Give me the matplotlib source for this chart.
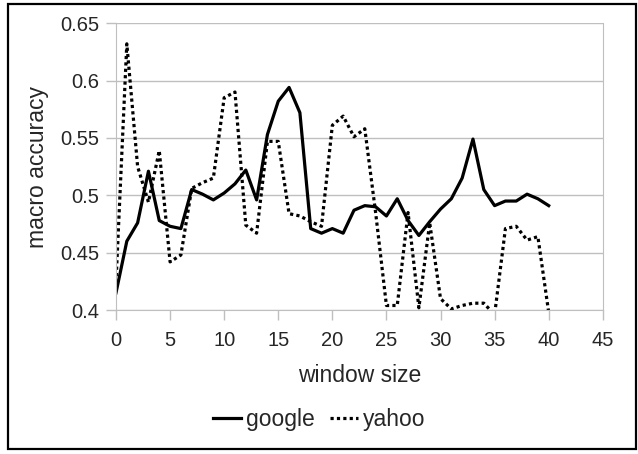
import matplotlib.pyplot as plt
from matplotlib.patches import Rectangle

plt.rcParams['font.family'] = ['Liberation Sans', 'DejaVu Sans']

window = list(range(0, 41))
google = [0.415, 0.460, 0.476, 0.521, 0.478, 0.473, 0.471, 0.505, 0.501, 0.496,
          0.502, 0.510, 0.522, 0.496, 0.553, 0.582, 0.594, 0.572, 0.471, 0.467,
          0.471, 0.467, 0.487, 0.491, 0.490, 0.482, 0.497, 0.478, 0.465, 0.477,
          0.488, 0.497, 0.515, 0.549, 0.505, 0.491, 0.495, 0.495, 0.501, 0.497,
          0.491]
yahoo = [0.424, 0.632, 0.525, 0.494, 0.539, 0.442, 0.448, 0.506, 0.511, 0.515,
         0.585, 0.590, 0.474, 0.467, 0.547, 0.547, 0.484, 0.482, 0.477, 0.473,
         0.561, 0.569, 0.551, 0.558, 0.485, 0.404, 0.404, 0.485, 0.402, 0.476,
         0.410, 0.401, 0.404, 0.406, 0.406, 0.396, 0.471, 0.473, 0.461, 0.464,
         0.398]

grid_c = '#bfbfbf'
text_c = '#262626'

fig = plt.figure(figsize=(6.38, 4.54), dpi=100)
ax = fig.add_axes([0.1818, 0.317, 0.763, 0.632])

ax.plot(window, google, color='black', lw=2.3, label='google')
ax.plot(window, yahoo, color='black', lw=2.3, linestyle=(0, (1, 1)), label='yahoo')

ax.set_xlim(0, 45)
ax.set_ylim(0.4, 0.65)
ax.set_xticks(range(0, 46, 5))
ax.set_yticks([0.4, 0.45, 0.5, 0.55, 0.6, 0.65])
ax.set_yticklabels(['0.4', '0.45', '0.5', '0.55', '0.6', '0.65'])
ax.yaxis.grid(True, color=grid_c, lw=1)
ax.set_axisbelow(True)
for s in ['left', 'bottom', 'right']:
    ax.spines[s].set_color(grid_c)
ax.spines['top'].set_visible(False)
ax.tick_params(axis='both', colors=grid_c, length=7, width=1, labelsize=14.5,
               labelcolor=text_c)
ax.tick_params(axis='x', pad=8)
ax.tick_params(axis='y', pad=5)

ax.set_xlabel('window size', fontsize=16.5, color=text_c, labelpad=10)
ax.set_ylabel('macro accuracy', fontsize=16.5, color=text_c, labelpad=8)

fig.legend(loc='center', bbox_to_anchor=(0.50, 0.076), ncol=2, frameon=False,
           fontsize=16.5, handlelength=1.25, handletextpad=0.2, columnspacing=0.65,
           labelcolor=text_c)

fig.patches.append(Rectangle((0.0125, 0.011), 0.984, 0.980, transform=fig.transFigure,
                             fill=False, edgecolor='black', lw=1.6))

fig.savefig('out.png', dpi=100)
